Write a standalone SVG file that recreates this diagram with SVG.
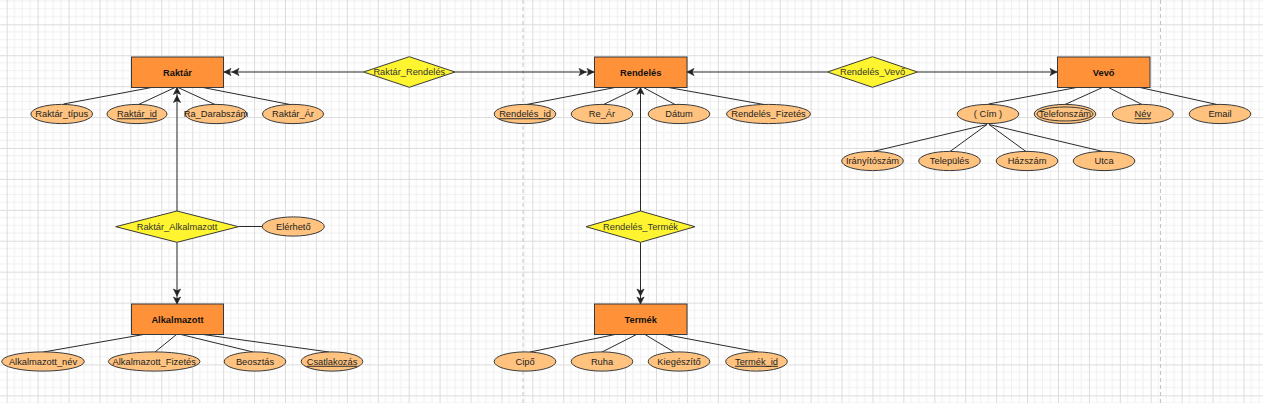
<svg xmlns="http://www.w3.org/2000/svg" width="1263" height="403" viewBox="0 0 1263 403">
<defs>
<pattern id="grid" patternUnits="userSpaceOnUse" x="6.7" y="24.3" width="30.92" height="30.92">
<path d="M7.73,0V30.92M15.46,0V30.92M23.19,0V30.92M0,7.73H30.92M0,15.46H30.92M0,23.19H30.92" stroke="#f0f0f0" stroke-width="1" fill="none"/>
<path d="M0.5,0V30.92M0,0.5H30.92" stroke="#dcdcdc" stroke-width="1" fill="none"/>
</pattern>
<marker id="a1" viewBox="-8 -5 9 10" refX="0" refY="0" markerWidth="9" markerHeight="10" markerUnits="userSpaceOnUse" orient="auto">
<path d="M0,0 L-7,-3.6 L-5.2,0 L-7,3.6 Z" fill="#222" stroke="#222" stroke-width="0.6"/>
</marker>
<marker id="a2" viewBox="-16 -5 17 10" refX="0" refY="0" markerWidth="17" markerHeight="10" markerUnits="userSpaceOnUse" orient="auto">
<path d="M0,0 L-7,-3.6 L-5.2,0 L-7,3.6 Z M-8,0 L-15,-3.6 L-13.2,0 L-15,3.6 Z" fill="#222" stroke="#222" stroke-width="0.6"/>
</marker>
</defs>
<style>
.ent rect{fill:#FF9138;stroke:#36393d;stroke-width:1}
.ent text{font-family:"Liberation Sans",Arial,sans-serif;font-size:9.3px;font-weight:bold;fill:#111;text-anchor:middle}
.att ellipse{fill:#FFC27F;stroke:#3a3a3a;stroke-width:1}
.att text{font-family:"Liberation Sans",Arial,sans-serif;font-size:9.3px;fill:#222;text-anchor:middle}
.rel polygon{fill:#FFF430;stroke:#3a3a3a;stroke-width:1}
.rel text{font-family:"Liberation Sans",Arial,sans-serif;font-size:9.3px;fill:#333;text-anchor:middle}
.u{text-decoration:underline}
#connectors line,#connectors path{stroke:#2a2a2a;stroke-width:1;fill:none}
</style>
<rect width="1263" height="403" fill="#ffffff"/>
<rect width="1263" height="403" fill="url(#grid)"/>
<line x1="523" y1="0" x2="523" y2="403" stroke="#c4c4c4" stroke-dasharray="4,3"/>
<line x1="1160.5" y1="0" x2="1160.5" y2="403" stroke="#c4c4c4" stroke-dasharray="4,3"/>

<g id="connectors">
<!-- relationships to entities -->
<line x1="363.5" y1="72" x2="224" y2="72" marker-end="url(#a2)"/>
<line x1="455" y1="72" x2="594" y2="72" marker-end="url(#a2)"/>
<line x1="827.5" y1="72" x2="687" y2="72" marker-end="url(#a1)"/>
<line x1="917.5" y1="72" x2="1057" y2="72" marker-end="url(#a1)"/>
<line x1="177" y1="211" x2="177" y2="87.5" marker-end="url(#a2)"/>
<line x1="177" y1="242.5" x2="177" y2="304" marker-end="url(#a2)"/>
<line x1="640.5" y1="211" x2="640.5" y2="87.5" marker-end="url(#a1)"/>
<line x1="640.5" y1="242.5" x2="640.5" y2="304" marker-end="url(#a2)"/>
<line x1="238.5" y1="226.5" x2="262.5" y2="226.5"/>
<!-- Raktar attributes -->
<line x1="151.5" y1="87.5" x2="63.5" y2="104"/>
<line x1="175" y1="87.5" x2="138.5" y2="104.5"/>
<line x1="178" y1="87.5" x2="215" y2="104.5"/>
<line x1="203" y1="87.5" x2="290" y2="104.5"/>
<!-- Rendeles attributes -->
<line x1="615" y1="87.5" x2="526.5" y2="104.5"/>
<line x1="638.5" y1="87.5" x2="603.5" y2="104.5"/>
<line x1="643.5" y1="87.5" x2="675" y2="104.5"/>
<line x1="668.5" y1="87.5" x2="764" y2="104.5"/>
<!-- Vevo attributes -->
<line x1="1076.5" y1="87.5" x2="988.5" y2="104"/>
<line x1="1102.5" y1="87.5" x2="1065" y2="104.5"/>
<line x1="1108.5" y1="87.5" x2="1142" y2="104.5"/>
<line x1="1140" y1="87.5" x2="1217" y2="104.5"/>
<!-- Cim sub attributes -->
<line x1="987" y1="124.5" x2="873" y2="151.5"/>
<line x1="987" y1="124.5" x2="950" y2="151.5"/>
<line x1="989" y1="124.5" x2="1026" y2="151.5"/>
<line x1="989" y1="124.5" x2="1103" y2="151.5"/>
<!-- Alkalmazott attributes -->
<line x1="143.5" y1="334.5" x2="43.5" y2="352"/>
<line x1="176.5" y1="334.5" x2="155" y2="352"/>
<line x1="181" y1="334.5" x2="253" y2="352"/>
<line x1="203" y1="334.5" x2="329" y2="352"/>
<!-- Termek attributes -->
<line x1="615" y1="334.5" x2="530" y2="352"/>
<line x1="636.5" y1="334.5" x2="602" y2="352"/>
<line x1="645" y1="334.5" x2="674" y2="352"/>
<line x1="665" y1="334.5" x2="758" y2="352"/>
</g>

<!-- Entities -->
<g id="raktar" class="ent"><rect x="131.5" y="57" width="92" height="30.5"/><text x="177.5" y="75.5">Raktár</text></g>
<g id="rendeles" class="ent"><rect x="594.5" y="57" width="92.5" height="30.5"/><text x="640.7" y="75.5">Rendelés</text></g>
<g id="vevo" class="ent"><rect x="1057.5" y="57" width="92.5" height="30.5"/><text x="1103.7" y="75.5">Vevő</text></g>
<g id="alkalmazott" class="ent"><rect x="131.5" y="304" width="92" height="30.5"/><text x="177.5" y="322.5">Alkalmazott</text></g>
<g id="termek" class="ent"><rect x="594.5" y="304" width="92.5" height="30.5"/><text x="640.7" y="322.5">Termék</text></g>

<!-- Relationships -->
<g id="raktar_rendeles" class="rel"><polygon points="363.5,72 409.3,56.7 455,72 409.3,87.3"/><text x="409.3" y="75.3">Raktár_Rendelés</text></g>
<g id="rendeles_vevo" class="rel"><polygon points="827.5,72 872.5,56.7 917.5,72 872.5,87.3"/><text x="872.5" y="75.3">Rendelés_Vevő</text></g>
<g id="raktar_alkalmazott" class="rel"><polygon points="115.7,226.7 177,211 238.5,226.7 177,242.3"/><text x="177" y="230">Raktár_Alkalmazott</text></g>
<g id="rendeles_termek" class="rel"><polygon points="586,226.7 640.5,211 695,226.7 640.5,242.3"/><text x="640.5" y="230">Rendelés_Termék</text></g>

<!-- Attributes -->
<g id="raktar_tipus" class="att"><ellipse cx="61.7" cy="114" rx="30.8" ry="9.6"/><text x="61.7" y="117.3">Raktár_típus</text></g>
<g id="raktar_id" class="att"><ellipse cx="137" cy="114" rx="30" ry="9.6"/><text x="137" y="117.3" class="u">Raktár_id</text></g>
<g id="ra_darabszam" class="att"><ellipse cx="216" cy="114" rx="30.8" ry="9.6"/><text x="216" y="117.3">Ra_Darabszám</text></g>
<g id="raktar_ar" class="att"><ellipse cx="293" cy="114" rx="30.5" ry="9.6"/><text x="293" y="117.3">Raktár_Ár</text></g>

<g id="rendeles_id" class="att"><ellipse cx="525" cy="114" rx="30.8" ry="9.6"/><text x="525" y="117.3" class="u">Rendelés_id</text></g>
<g id="re_ar" class="att"><ellipse cx="602" cy="114" rx="30.8" ry="9.6"/><text x="602" y="117.3">Re_Ár</text></g>
<g id="datum" class="att"><ellipse cx="679" cy="114" rx="30.8" ry="9.6"/><text x="679" y="117.3">Dátum</text></g>
<g id="rendeles_fizetes" class="att"><ellipse cx="768.5" cy="114" rx="42" ry="9.6"/><text x="768.5" y="117.3">Rendelés_Fizetés</text></g>

<g id="cim" class="att"><ellipse cx="988" cy="114" rx="30.8" ry="9.6"/><text x="988" y="117.3">( Cím )</text></g>
<g id="telefonszam" class="att"><ellipse cx="1065" cy="114" rx="30.8" ry="9.6"/><ellipse cx="1065" cy="114" rx="28" ry="7" fill="none"/><text x="1065" y="117.3">Telefonszám</text></g>
<g id="nev" class="att"><ellipse cx="1142.8" cy="114" rx="30.5" ry="9.6"/><text x="1142.8" y="117.3" class="u">Név</text></g>
<g id="email" class="att"><ellipse cx="1220" cy="114" rx="30.8" ry="9.6"/><text x="1220" y="117.3">Email</text></g>

<g id="iranyitoszam" class="att"><ellipse cx="872.5" cy="161" rx="30.8" ry="9.6"/><text x="872.5" y="164.3">Irányítószám</text></g>
<g id="telepules" class="att"><ellipse cx="949.5" cy="161" rx="30.8" ry="9.6"/><text x="949.5" y="164.3">Település</text></g>
<g id="hazszam" class="att"><ellipse cx="1027" cy="161" rx="30.8" ry="9.6"/><text x="1027" y="164.3">Házszám</text></g>
<g id="utca" class="att"><ellipse cx="1104" cy="161" rx="30.8" ry="9.6"/><text x="1104" y="164.3">Utca</text></g>

<g id="elerheto" class="att"><ellipse cx="293.3" cy="226.5" rx="31" ry="9.6"/><text x="293.3" y="229.8">Elérhető</text></g>

<g id="alkalmazott_nev" class="att"><ellipse cx="43" cy="361.5" rx="41.3" ry="9.6"/><text x="43" y="364.8">Alkalmazott_név</text></g>
<g id="alkalmazott_fizetes" class="att"><ellipse cx="154.2" cy="361.5" rx="45.8" ry="9.6"/><text x="154.2" y="364.8">Alkalmazott_Fizetés</text></g>
<g id="beosztas" class="att"><ellipse cx="255" cy="361.5" rx="30.8" ry="9.6"/><text x="255" y="364.8">Beosztás</text></g>
<g id="csatlakozas" class="att"><ellipse cx="332" cy="361.5" rx="30.8" ry="9.6"/><text x="332" y="364.8" class="u">Csatlakozás</text></g>

<g id="cipo" class="att"><ellipse cx="525" cy="361.5" rx="30.8" ry="9.6"/><text x="525" y="364.8">Cipő</text></g>
<g id="ruha" class="att"><ellipse cx="602" cy="361.5" rx="30.8" ry="9.6"/><text x="602" y="364.8">Ruha</text></g>
<g id="kiegeszito" class="att"><ellipse cx="679" cy="361.5" rx="30.8" ry="9.6"/><text x="679" y="364.8">Kiegészítő</text></g>
<g id="termek_id" class="att"><ellipse cx="756.5" cy="361.5" rx="30.8" ry="9.6"/><text x="756.5" y="364.8" class="u">Termék_id</text></g>
</svg>
